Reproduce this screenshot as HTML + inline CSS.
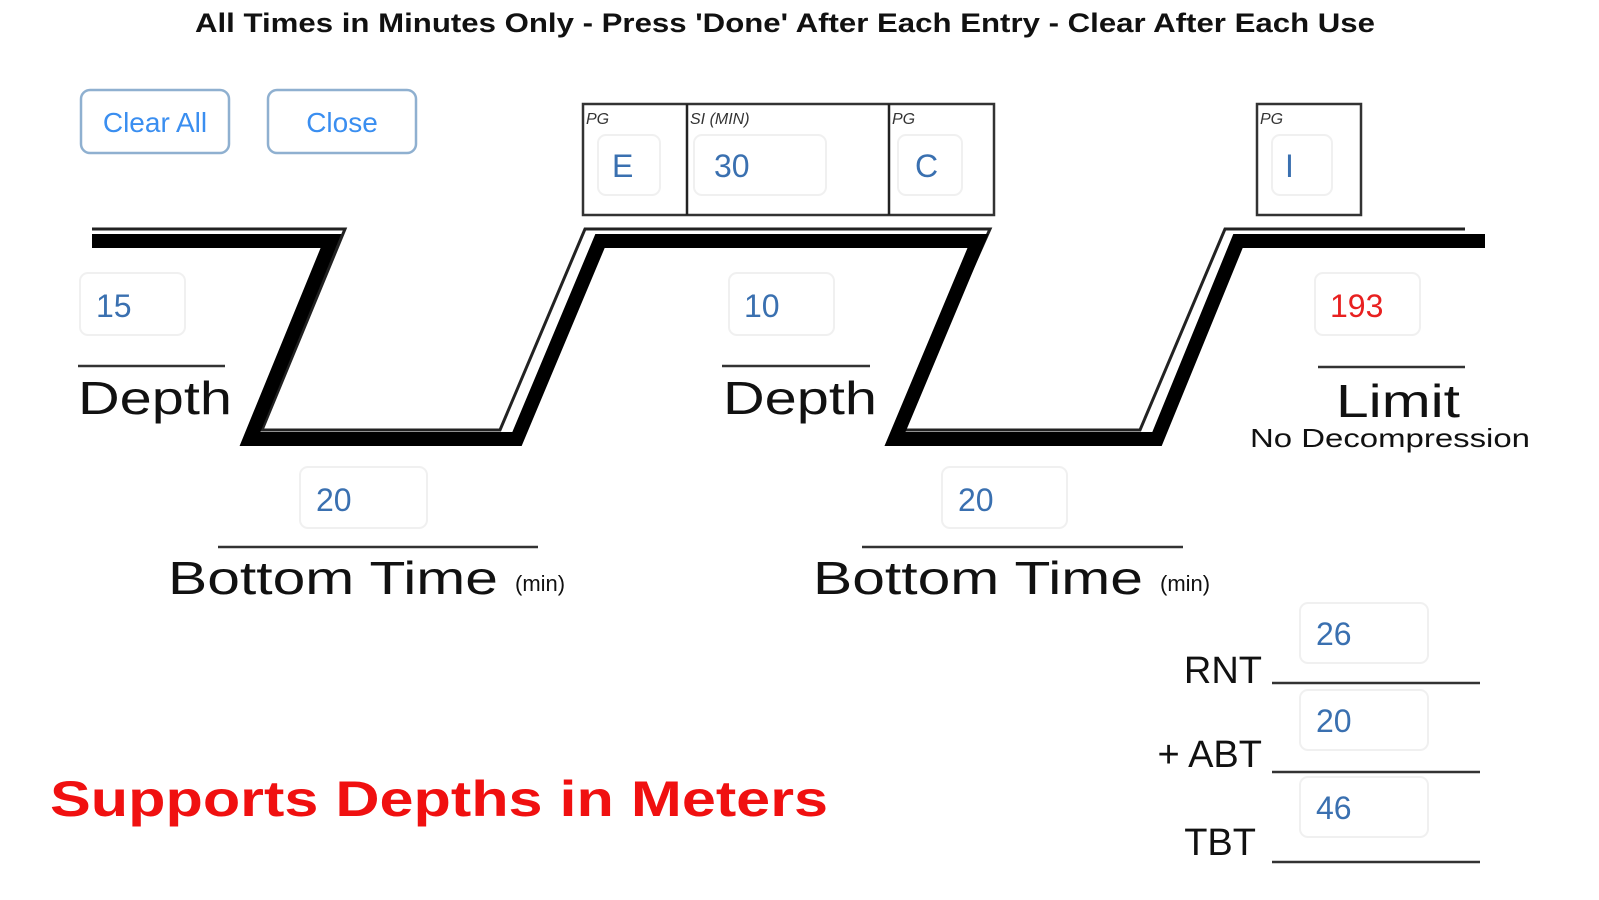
<!DOCTYPE html>
<html><head><meta charset="utf-8"><style>
html,body{margin:0;padding:0;background:#fff;width:1599px;height:900px;overflow:hidden}
svg{display:block}
text{font-family:"Liberation Sans",sans-serif}
</style></head><body>
<svg width="1599" height="900" viewBox="0 0 1599 900" xmlns="http://www.w3.org/2000/svg">
<text x="195" y="32" font-size="27" font-weight="bold" textLength="1180" lengthAdjust="spacingAndGlyphs" fill="#111">All Times in Minutes Only - Press 'Done' After Each Entry - Clear After Each Use</text>

<rect x="81" y="90" width="148" height="63" rx="9" fill="#fff" stroke="#8fb0d0" stroke-width="2.5"/>
<text x="155" y="132" font-size="28" fill="#3a8ef0" text-anchor="middle">Clear All</text>
<rect x="268" y="90" width="148" height="63" rx="9" fill="#fff" stroke="#8fb0d0" stroke-width="2.5"/>
<text x="342" y="132" font-size="28" fill="#3a8ef0" text-anchor="middle">Close</text>

<!-- PG boxes -->
<rect x="583" y="104" width="411" height="111" fill="none" stroke="#333" stroke-width="2.5"/>
<line x1="687" y1="104" x2="687" y2="215" stroke="#222" stroke-width="2.5"/>
<line x1="889" y1="104" x2="889" y2="215" stroke="#222" stroke-width="2.5"/>
<rect x="1257" y="104" width="104" height="111" fill="none" stroke="#333" stroke-width="2.5"/>
<g font-size="16" font-style="italic" fill="#333">
<text x="586" y="124">PG</text><text x="690" y="124">SI (MIN)</text><text x="892" y="124">PG</text><text x="1260" y="124">PG</text>
</g>
<g fill="#fff" stroke="#f0f0f0" stroke-width="2">
<rect x="598" y="135" width="62" height="60" rx="8"/>
<rect x="694" y="135" width="132" height="60" rx="8"/>
<rect x="898" y="135" width="64" height="60" rx="8"/>
<rect x="1272" y="135" width="60" height="60" rx="8"/>
<rect x="80" y="273" width="105" height="62" rx="8"/>
<rect x="300" y="467" width="127" height="61" rx="8"/>
<rect x="729" y="273" width="105" height="62" rx="8"/>
<rect x="942" y="467" width="125" height="61" rx="8"/>
<rect x="1315" y="273" width="105" height="62" rx="8"/>
<rect x="1300" y="603" width="128" height="60" rx="8"/>
<rect x="1300" y="690" width="128" height="60" rx="8"/>
<rect x="1300" y="777" width="128" height="60" rx="8"/>
</g>
<g font-size="32" fill="#3a70b0">
<text x="612" y="177">E</text><text x="714" y="177">30</text><text x="915" y="177">C</text><text x="1285" y="177">I</text>
<text x="96" y="317">15</text><text x="316" y="511">20</text><text x="744" y="317">10</text><text x="958" y="511">20</text>
<text x="1330" y="317" fill="#e82020">193</text>
<text x="1316" y="645">26</text><text x="1316" y="732">20</text><text x="1316" y="819">46</text>
</g>

<!-- profile -->
<polyline points="92,229 345,229 262,430 500,430 585,229 990,229 900,430 1140,430 1225,229 1465,229" fill="none" stroke="#222" stroke-width="3"/>
<polyline points="92,241 331,241 250,439 517,439 600,241 978,241 895,439 1157,439 1238,241 1485,241" fill="none" stroke="#000" stroke-width="14" stroke-linejoin="miter"/>

<!-- labels -->
<g stroke="#333" stroke-width="2.5">
<line x1="78" y1="366" x2="225" y2="366"/>
<line x1="218" y1="547" x2="538" y2="547"/>
<line x1="722" y1="366" x2="870" y2="366"/>
<line x1="862" y1="547" x2="1183" y2="547"/>
<line x1="1318" y1="367" x2="1465" y2="367"/>
<line x1="1272" y1="683" x2="1480" y2="683"/>
<line x1="1272" y1="772" x2="1480" y2="772"/>
<line x1="1272" y1="862" x2="1480" y2="862"/>
</g>
<g font-size="46" fill="#111">
<text x="78" y="414" textLength="154" lengthAdjust="spacingAndGlyphs">Depth</text>
<text x="723" y="414" textLength="154" lengthAdjust="spacingAndGlyphs">Depth</text>
<text x="168" y="594" textLength="330" lengthAdjust="spacingAndGlyphs">Bottom Time</text>
<text x="813" y="594" textLength="330" lengthAdjust="spacingAndGlyphs">Bottom Time</text>
<text x="1336" y="417" textLength="124" lengthAdjust="spacingAndGlyphs">Limit</text>
</g>
<g font-size="22" fill="#111">
<text x="515" y="591">(min)</text><text x="1160" y="591">(min)</text>
</g>
<text x="1250" y="447" font-size="26" fill="#111" textLength="280" lengthAdjust="spacingAndGlyphs">No Decompression</text>
<g font-size="38" fill="#111" text-anchor="end">
<text x="1262" y="683">RNT</text><text x="1262" y="767">+ ABT</text><text x="1256" y="855">TBT</text>
</g>
<text x="50" y="816" font-size="50" font-weight="bold" fill="#f01010" textLength="778" lengthAdjust="spacingAndGlyphs">Supports Depths in Meters</text>
</svg>
</body></html>
